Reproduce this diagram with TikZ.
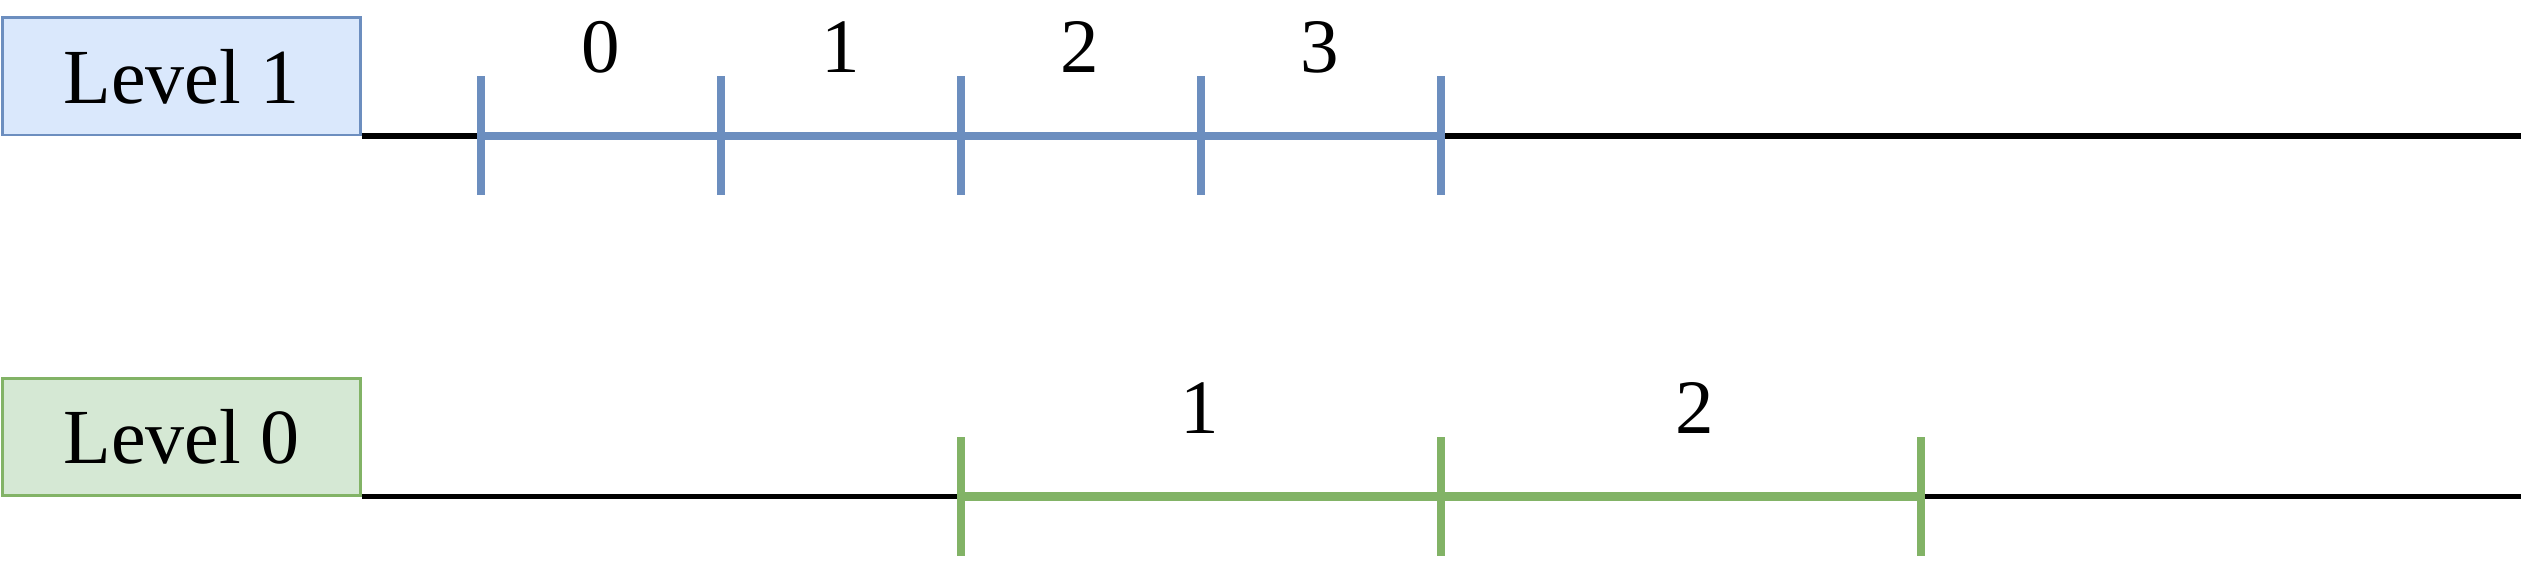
\documentclass[tikz,border=0pt]{standalone}
\usepackage{fontspec}
\setmainfont{Liberation Serif}
\definecolor{bluefill}{HTML}{DAE8FC}
\definecolor{bluestroke}{HTML}{6C8EBF}
\definecolor{greenfill}{HTML}{D5E8D4}
\definecolor{greenstroke}{HTML}{82B366}
\begin{document}
\begin{tikzpicture}[x=1pt,y=-1pt,
  levelbox/.style={draw, line width=2.7pt, minimum width=358.3pt, minimum height=117.3pt,
    inner sep=0pt, font=\fontsize{78}{90}\selectfont},
  bluebox/.style={levelbox, draw=bluestroke, fill=bluefill},
  greenbox/.style={levelbox, draw=greenstroke, fill=greenfill},
  blackline/.style={draw=black, line width=5.5pt},
  blueseg/.style={draw=bluestroke, line width=8.5pt},
  greenseg/.style={draw=greenstroke, line width=8.5pt},
  bluetick/.style={draw=bluestroke, line width=7.5pt},
  greentick/.style={draw=greenstroke, line width=7.5pt},
  numlabel/.style={anchor=base, inner sep=0pt, font=\fontsize{77}{90}\selectfont}
]
\useasboundingbox (0,0) rectangle (2529,564);

% Level 1
\node[bluebox] (L1) at (181.5,76.5) {Level 1};
\coordinate (e1) at (2521,136);
\foreach \i/\x in {0/481,1/721,2/961,3/1201,4/1441} {\coordinate (a\i) at (\x,136);}
\draw[blackline] (L1.south east |- a0) -- (e1);
\draw[blueseg] (a0) -- (a4);
\foreach \i in {0,...,4} {\draw[bluetick] ([yshift=59.5pt]a\i) -- ([yshift=-59.5pt]a\i);}
\node[numlabel] (n0) at (601,73) {0};
\node[numlabel] (n1) at (841,73) {1};
\node[numlabel] (n2) at (1080,73) {2};
\node[numlabel] (n3) at (1320,73) {3};

% Level 0
\node[greenbox] (L0) at (181.5,437) {Level 0};
\coordinate (e0) at (2521,496.5);
\foreach \i/\x in {0/961,1/1441,2/1921} {\coordinate (b\i) at (\x,496.5);}
\draw[blackline] (L0.south east |- b0) -- (e0);
\draw[greenseg] (b0) -- (b2);
\foreach \i in {0,...,2} {\draw[greentick] ([yshift=59.5pt]b\i) -- ([yshift=-59.5pt]b\i);}
\node[numlabel] (m1) at (1200,433) {1};
\node[numlabel] (m2) at (1695,433) {2};
\end{tikzpicture}
\end{document}
